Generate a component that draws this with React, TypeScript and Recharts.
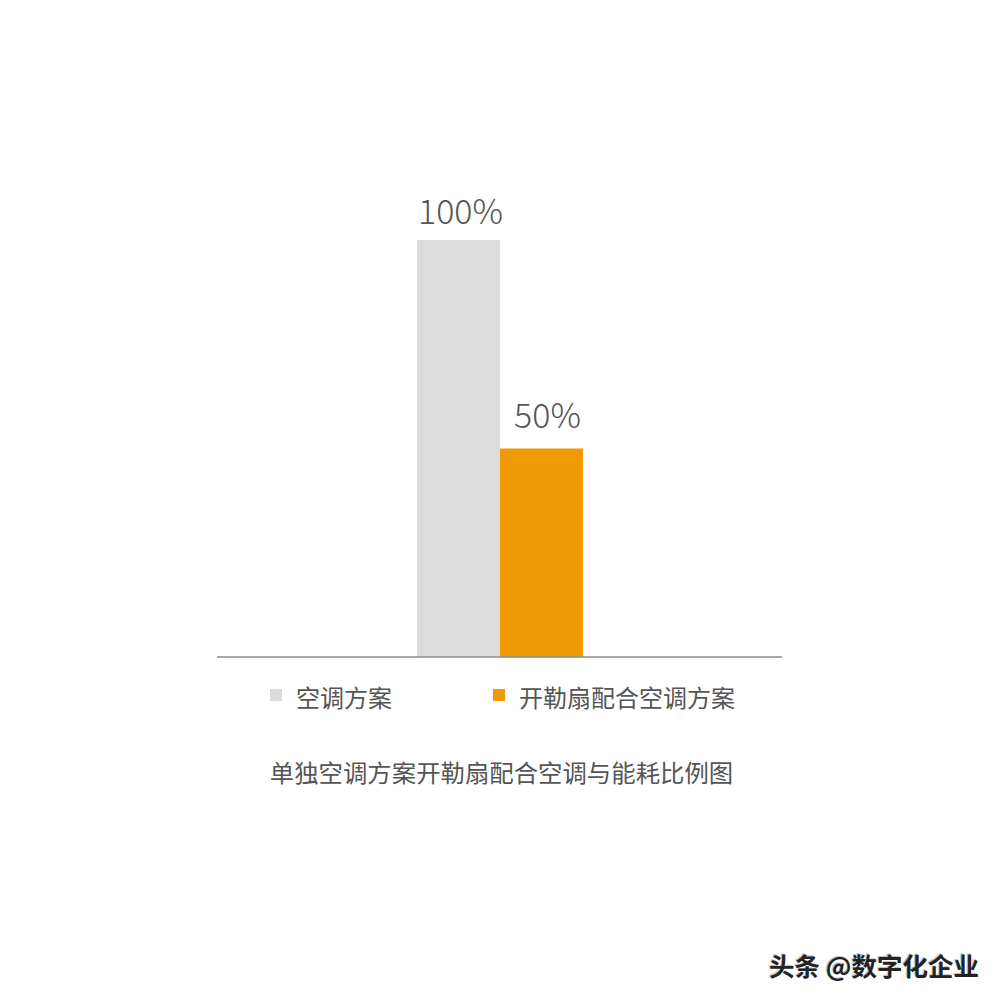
import React from "react";
import { BarChart, Bar, XAxis, YAxis, Legend, LabelList } from "recharts";

// ─── Data ─────────────────────────────────────────────
const categories = ["能耗比例"];
const acValues = [100];
const fanValues = [50];
const seriesNames = ["空调方案", "开勒扇配合空调方案"];
const caption = "单独空调方案开勒扇配合空调与能耗比例图";
const watermark = "头条 @数字化企业";

const COLORS = {
  ac: "#dcdcdc",
  fan: "#f09a05",
  text: "#555555",
  axis: "#8c8c8c",
};

const FONT = '"Noto Sans CJK SC", "Noto Sans", sans-serif';
const LEGEND_H = 40;

const data = categories.map((name, i) => ({
  name,
  ac: acValues[i],
  fan: fanValues[i],
}));

const pct = (v: any) => `${v}%`;

// legend drawn by hand so it sits where the original puts it
const LegendContent = () => {
  const items = [
    { name: seriesNames[0], color: COLORS.ac, left: 270 },
    { name: seriesNames[1], color: COLORS.fan, left: 493 },
  ];
  return (
    <div style={{ position: "relative", width: 1000, height: LEGEND_H }}>
      {items.map((it) => (
        <div
          key={it.name}
          style={{
            position: "absolute",
            left: it.left,
            top: 0,
            height: LEGEND_H,
            display: "flex",
            alignItems: "center",
            fontFamily: FONT,
            fontSize: 24,
            color: COLORS.text,
          }}
        >
          <span style={{ width: 12, height: 12, background: it.color, marginRight: 14, marginTop: -2 }} />
          <span>{it.name}</span>
        </div>
      ))}
    </div>
  );
};

export default function App() {
  return (
    <div
      style={{
        position: "absolute",
        left: 0,
        top: 0,
        width: 1000,
        height: 1000,
        background: "#ffffff",
        fontFamily: FONT,
      }}
    >
      <BarChart
        width={1000}
        height={1000}
        data={data}
        margin={{ top: 240, right: 218, left: 217, bottom: 342 - LEGEND_H }}
        barGap={0}
      >
        <XAxis
          dataKey="name"
          tick={false}
          tickLine={false}
          height={1}
          axisLine={{ stroke: COLORS.axis, strokeWidth: 1.5 }}
        />
        <YAxis hide domain={[0, 100]} />
        <Legend
          content={<LegendContent />}
          wrapperStyle={{ position: "absolute", left: 0, top: 676, width: 1000, height: LEGEND_H }}
        />
        <Bar dataKey="ac" name={seriesNames[0]} fill={COLORS.ac} barSize={83} isAnimationActive={false}>
          <LabelList
            dataKey="ac"
            position="top"
            offset={16}
            dx={2}
            formatter={pct}
            fill={COLORS.text}
            fontSize={34}
            fontWeight={300}
            fontFamily={FONT}
          />
        </Bar>
        <Bar dataKey="fan" name={seriesNames[1]} fill={COLORS.fan} barSize={83} isAnimationActive={false}>
          <LabelList
            dataKey="fan"
            position="top"
            offset={21}
            dx={6}
            formatter={pct}
            fill={COLORS.text}
            fontSize={34}
            fontWeight={300}
            fontFamily={FONT}
          />
        </Bar>
      </BarChart>

      <div
        style={{
          position: "absolute",
          left: 0,
          top: 754,
          width: 1000,
          textAlign: "center",
          fontSize: 24.4,
          color: COLORS.text,
          lineHeight: "36px",
          paddingLeft: 3,
          boxSizing: "border-box",
        }}
      >
        {caption}
      </div>

      <div
        style={{
          position: "absolute",
          left: 769,
          top: 947,
          fontSize: 25.5,
          fontWeight: 700,
          color: "#222222",
          textShadow: "1px 1px 1px #ffffff, -1px -1px 1px #bbbbbb",
          lineHeight: "36px",
        }}
      >
        {watermark}
      </div>
    </div>
  );
}
